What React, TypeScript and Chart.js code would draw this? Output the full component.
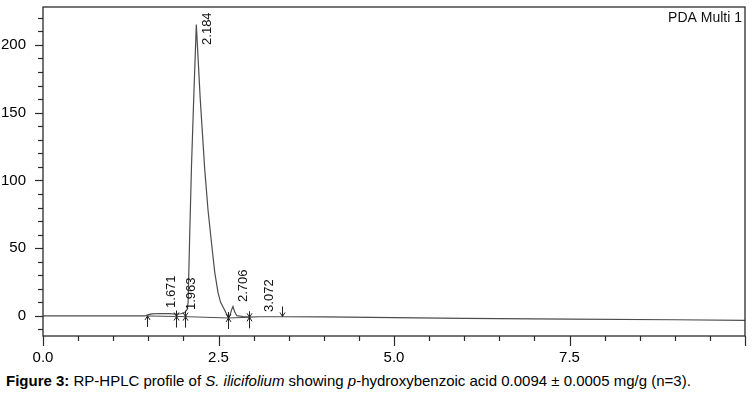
import React, { useEffect, useRef } from 'react';
import { Chart, registerables } from 'chart.js';

Chart.register(...registerables);

// Chromatogram trace (retention time in min, signal in mAU)
const traceTime = [
  0, 0.5, 1.0, 1.45, 1.48, 1.55, 1.671, 1.8, 1.892, 1.963, 2.02, 2.055, 2.067, 2.09,
  2.115, 2.15, 2.184, 2.24, 2.304, 2.351, 2.4, 2.447, 2.494, 2.53, 2.565, 2.61, 2.636,
  2.66, 2.69, 2.706, 2.73, 2.76, 2.85, 2.935, 3.072, 3.41, 4.0, 5.0, 6.0, 7.5, 9.0, 10.0,
];
const traceSignal = [
  0, 0.1, 0, 0, 0.6, 1.5, 1.8, 1.7, 1.4, 1.6, 2.5, 5, 10, 60,
  110, 165, 215, 160, 108, 78, 54, 32, 17, 10, 6.6, 2, -0.6,
  0, 5, 7, 3, 0.2, -0.4, -0.8, -0.6, -0.6, -0.7, -1.2, -1.8, -2.3, -2.8, -3.2,
];

// Integration baseline segments
const baselineTime = [1.475, 1.892, 2.02, 2.636, 2.935];
const baselineSignal = [0, -0.4, -0.5, -1.5, -1.0];

// Peak annotations
const peakTimes = [1.671, 1.963, 2.184, 2.706, 3.072];
const peakLabels = ['1.671', '1.963', '2.184', '2.706', '3.072'];
const peakLabelBase = [5.9, 4.4, 200, 10.3, 3];

// Integration event markers
const eventTimes = [1.475, 1.892, 2.02, 2.636, 2.935, 3.41];
const eventSignal = [0, -0.4, -0.5, -1.5, -1.0, -0.4];
const eventKinds = ['up', 'cross', 'cross', 'cross', 'cross', 'down'];

// Axis ticks
const xMajorTicks = [0, 2.5, 5, 7.5];
const yMajorTicks = [0, 50, 100, 150, 200];

const FONT = '"Liberation Sans", Arial, sans-serif';

const decor = {
  id: 'decor',
  afterDraw(chart: any) {
    const { ctx, chartArea, scales } = chart;
    const xs = scales.x;
    const ys = scales.y;
    const { left, right, top, bottom } = chartArea;
    ctx.save();
    ctx.strokeStyle = '#2a2a2a';
    ctx.lineWidth = 1.3;
    ctx.strokeRect(left, top, right - left, bottom - top);

    // x ticks
    ctx.lineWidth = 1.2;
    for (let i = 0; i <= 20; i++) {
      const v = i * 0.5;
      const px = Math.round(xs.getPixelForValue(v)) + 0.5;
      const major = i % 5 === 0;
      ctx.beginPath();
      ctx.moveTo(px, bottom);
      ctx.lineTo(px, bottom + (major ? 10 : 5));
      ctx.stroke();
    }
    // y ticks
    for (let v = -10; v <= 220; v += 10) {
      const py = Math.round(ys.getPixelForValue(v)) + 0.5;
      const major = v % 50 === 0;
      ctx.beginPath();
      ctx.moveTo(left, py);
      ctx.lineTo(left - (major ? 8 : 5), py);
      ctx.stroke();
    }

    // event markers
    ctx.strokeStyle = '#222';
    ctx.lineWidth = 1;
    eventTimes.forEach((t, i) => {
      const px = Math.round(xs.getPixelForValue(t)) + 0.5;
      const py = ys.getPixelForValue(eventSignal[i]);
      const kind = eventKinds[i];
      ctx.beginPath();
      if (kind === 'up') {
        ctx.moveTo(px, py);
        ctx.lineTo(px, py + 11);
        ctx.moveTo(px - 2.5, py + 4);
        ctx.lineTo(px, py);
        ctx.lineTo(px + 2.5, py + 4);
      } else if (kind === 'down') {
        ctx.moveTo(px, py - 10);
        ctx.lineTo(px, py);
        ctx.moveTo(px - 2.5, py - 4);
        ctx.lineTo(px, py);
        ctx.lineTo(px + 2.5, py - 4);
      } else {
        ctx.moveTo(px, py - 6);
        ctx.lineTo(px, py + 11);
        ctx.moveTo(px - 2.5, py - 4);
        ctx.lineTo(px, py);
        ctx.lineTo(px + 2.5, py - 4);
        ctx.moveTo(px - 2.5, py + 4);
        ctx.lineTo(px, py);
        ctx.lineTo(px + 2.5, py + 4);
      }
      ctx.stroke();
    });

    // peak labels
    ctx.fillStyle = '#111';
    ctx.font = `13px ${FONT}`;
    ctx.textAlign = 'left';
    ctx.textBaseline = 'alphabetic';
    peakTimes.forEach((t, i) => {
      const px = xs.getPixelForValue(t) + 14.5;
      const py = ys.getPixelForValue(peakLabelBase[i]);
      ctx.save();
      ctx.translate(px, py);
      ctx.rotate(-Math.PI / 2);
      ctx.fillText(peakLabels[i], 0, 0);
      ctx.restore();
    });

    // channel label
    ctx.font = `14px ${FONT}`;
    ctx.textAlign = 'right';
    ctx.textBaseline = 'middle';
    ctx.fillStyle = '#111';
    ctx.fillText('PDA Multi 1', right - 3, top + 11);
    ctx.restore();
  },
};

export default function App() {
  const ref = useRef<HTMLCanvasElement | null>(null);
  useEffect(() => {
    if (!ref.current) return;
    const chart = new Chart(ref.current, {
      type: 'scatter',
      data: {
        datasets: [
          {
            data: traceTime.map((t, i) => ({ x: t, y: traceSignal[i] })),
            showLine: true,
            borderColor: '#4d4d4d',
            borderWidth: 1.2,
            pointRadius: 0,
            tension: 0,
          },
          {
            data: baselineTime.map((t, i) => ({ x: t, y: baselineSignal[i] })),
            showLine: true,
            borderColor: '#4d4d4d',
            borderWidth: 1,
            pointRadius: 0,
            tension: 0,
          },
        ],
      },
      options: {
        responsive: false,
        animation: false,
        layout: { padding: { top: 7, right: 7, left: 0, bottom: 0 } },
        plugins: { legend: { display: false }, tooltip: { enabled: false } },
        scales: {
          x: {
            type: 'linear',
            min: 0,
            max: 10,
            afterBuildTicks: (s: any) => {
              s.ticks = xMajorTicks.map((v) => ({ value: v }));
            },
            afterFit: (s: any) => {
              s.height = 30;
              s.paddingLeft = 0;
              s.paddingRight = 0;
            },
            ticks: {
              callback: (v: any) => Number(v).toFixed(1),
              padding: 5,
              color: '#000',
              font: { size: 15, family: FONT },
              maxRotation: 0,
              autoSkip: false,
            },
            grid: { display: false },
            border: { display: false },
          },
          y: {
            type: 'linear',
            min: -14.8,
            max: 228,
            afterBuildTicks: (s: any) => {
              s.ticks = yMajorTicks.map((v) => ({ value: v }));
            },
            afterFit: (s: any) => {
              s.width = 43;
              s.paddingTop = 0;
              s.paddingBottom = 0;
            },
            ticks: {
              callback: (v: any) => String(v),
              padding: 9,
              color: '#000',
              font: { size: 15, family: FONT },
              autoSkip: false,
            },
            grid: { display: false },
            border: { display: false },
          },
        },
      },
      plugins: [decor],
    });
    return () => chart.destroy();
  }, []);

  return (
    <div style={{ position: 'absolute', left: 0, top: 0, width: 752, height: 393, background: '#fff' }}>
      <canvas ref={ref} width={752} height={366} style={{ display: 'block' }} />
      <div
        style={{
          position: 'absolute',
          left: 6,
          top: 373,
          fontFamily: FONT,
          fontSize: 15,
          lineHeight: '16px',
          color: '#000',
          whiteSpace: 'nowrap',
        }}
      >
        <b>Figure 3:</b> RP-HPLC profile of <i>S. ilicifolium</i> showing <i>p</i>-hydroxybenzoic acid 0.0094 ± 0.0005 mg/g (n=3).
      </div>
    </div>
  );
}
